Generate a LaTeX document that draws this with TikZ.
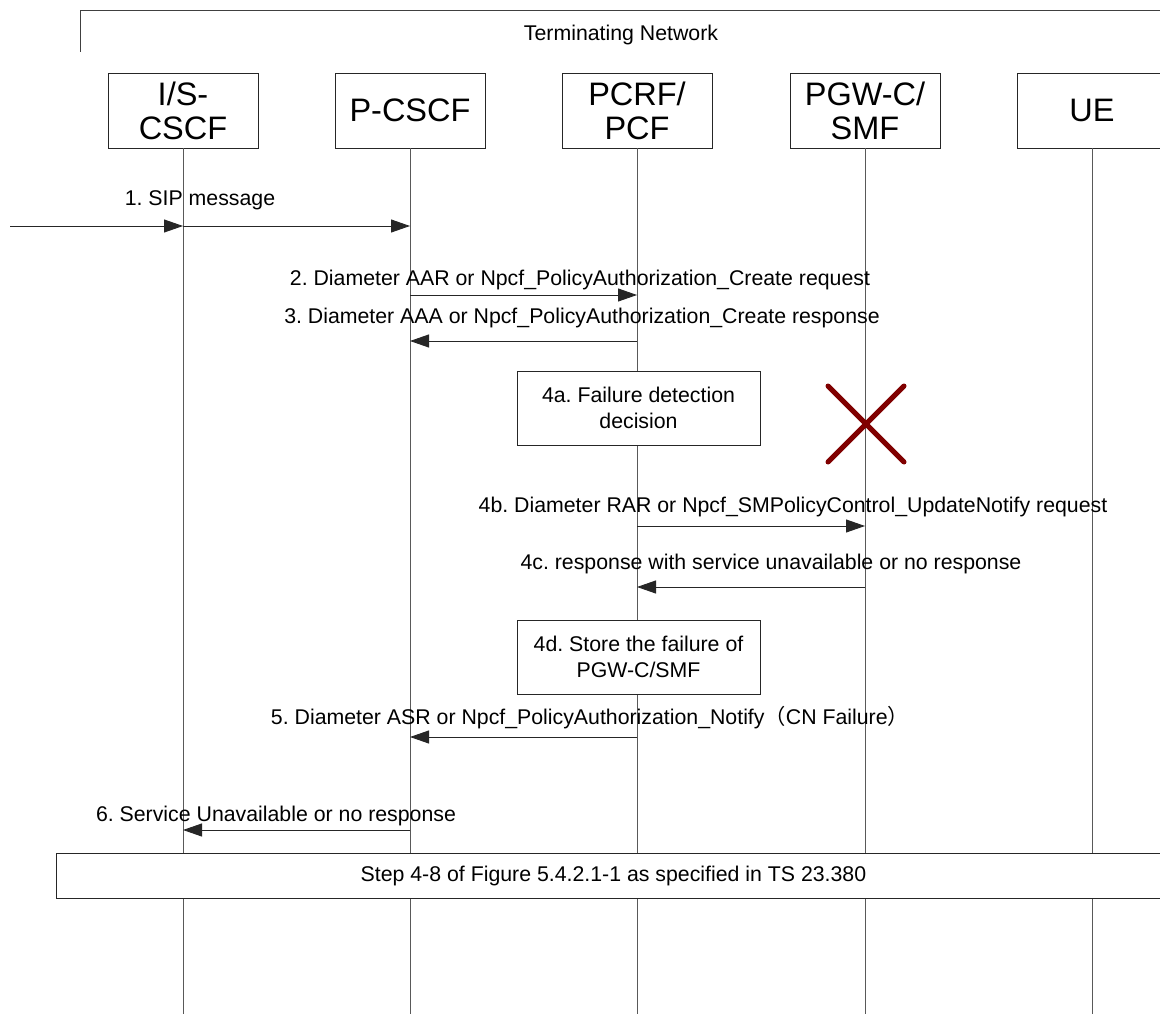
\documentclass[tikz,border=0pt]{standalone}
\usepackage{fontspec}
\setmainfont{Liberation Sans}
\newfontfamily\cjk{Noto Sans CJK SC}
\usetikzlibrary{arrows.meta}
\frenchspacing
\begin{document}
\begin{tikzpicture}[x=1pt,y=-1pt,
  ent/.style={draw=black!85, fill=white, line width=0.9pt, minimum width=150pt, minimum height=75pt, align=center, font=\fontsize{32.5}{34}\selectfont, inner sep=0pt},
  lbl/.style={font=\fontsize{21.3}{24}\selectfont, inner sep=0pt, anchor=center},
  msg/.style={draw=black!85, line width=0.9pt, -{Triangle[length=19pt,width=13pt]}},
  life/.style={draw=black!65, line width=1pt},
  notebox/.style={draw=black!85, fill=white, line width=0.9pt, minimum width=243pt, minimum height=74pt, align=center, font=\fontsize{21.3}{26}\selectfont, inner sep=0pt},
  cross/.style={draw=red!50!black, line width=5pt, line cap=round}
]
\useasboundingbox (0,0) rectangle (1160,1014);
\fill[white] (0,0) rectangle (1160,1014);

% frame
\coordinate (fa) at (80,52);
\coordinate (fb) at (80,10);
\coordinate (fc) at (1170,10);
\draw[draw=black!75, line width=0.9pt] (fa) -- (fb) -- (fc);
\node[lbl] (tn) at (621,35) {Terminating Network};

% entities
\node[ent] (is) at (183,110.5) {I/S-\\CSCF};
\node[ent] (pc) at (410,110.5) {P-CSCF};
\node[ent] (pf) at (637,110.5) {PCRF/\\PCF};
\node[ent] (pg) at (865,110.5) {PGW-C/\\SMF};
\node[ent] (ue) at (1092,110.5) {UE};

% lifeline ends
\coordinate (isb) at (183,1014);
\coordinate (pcb) at (410,1014);
\coordinate (pfb) at (637,1014);
\coordinate (pgb) at (865,1014);
\coordinate (ueb) at (1092,1014);
\draw[life] (is.south) -- (isb);
\draw[life] (pc.south) -- (pcb);
\draw[life] (pf.south) -- (pfb);
\draw[life] (pg.south) -- (pgb);
\draw[life] (ue.south) -- (ueb);

% message points
\coordinate (src1) at (10,226);
\coordinate (is1) at (183,226);
\coordinate (pc1) at (410,226);
\coordinate (pc2) at (410,295);
\coordinate (pf2) at (637,295);
\coordinate (pf3) at (637,341);
\coordinate (pc3) at (410,341);
\coordinate (pf4b) at (637,526);
\coordinate (pg4b) at (865,526);
\coordinate (pg4c) at (865,587);
\coordinate (pf4c) at (637,587);
\coordinate (pf5) at (637,737);
\coordinate (pc5) at (410,737);
\coordinate (pc6) at (410,830);
\coordinate (is6) at (183,830);

% messages
\draw[msg] (src1) -- (is1);
\draw[msg] (is1) -- (pc1);
\node[lbl] (l1) at (200,200) {1. SIP message};

\draw[msg] (pc2) -- (pf2);
\node[lbl] (l2) at (580,280) {2. Diameter AAR or Npcf\_PolicyAuthorization\_Create request};

\draw[msg] (pf3) -- (pc3);
\node[lbl] (l3) at (582,318) {3. Diameter AAA or Npcf\_PolicyAuthorization\_Create response};

\node[notebox] (n4a) at (638.5,408) {4a. Failure detection\\decision};

% failure cross
\coordinate (xa) at (828,386);
\coordinate (xb) at (904,462);
\coordinate (xc) at (904,386);
\coordinate (xd) at (828,462);
\draw[cross] (xa) -- (xb);
\draw[cross] (xc) -- (xd);

\draw[msg] (pf4b) -- (pg4b);
\node[lbl] (l4b) at (793,507) {4b. Diameter RAR or Npcf\_SMPolicyControl\_UpdateNotify request};

\draw[msg] (pg4c) -- (pf4c);
\node[lbl] (l4c) at (771,564) {4c. response with service unavailable or no response};

\node[notebox] (n4d) at (638.5,657) {4d. Store the failure of\\PGW-C/SMF};

\draw[msg] (pf5) -- (pc5);
\node[lbl] (l5) at (590,718) {5. Diameter ASR or Npcf\_PolicyAuthorization\_Notify{\cjk （}CN Failure{\cjk ）}};

\draw[msg] (pc6) -- (is6);
\node[lbl] (l6) at (276,816) {6. Service Unavailable or no response};

% step box
\node[draw=black!85, fill=white, line width=0.9pt, minimum width=1114pt, minimum height=45pt, inner sep=0pt, anchor=north west, font=\fontsize{21.3}{24}\selectfont] (steps) at (56,853) {Step 4-8 of Figure 5.4.2.1-1 as specified in TS 23.380};
\end{tikzpicture}
\end{document}
